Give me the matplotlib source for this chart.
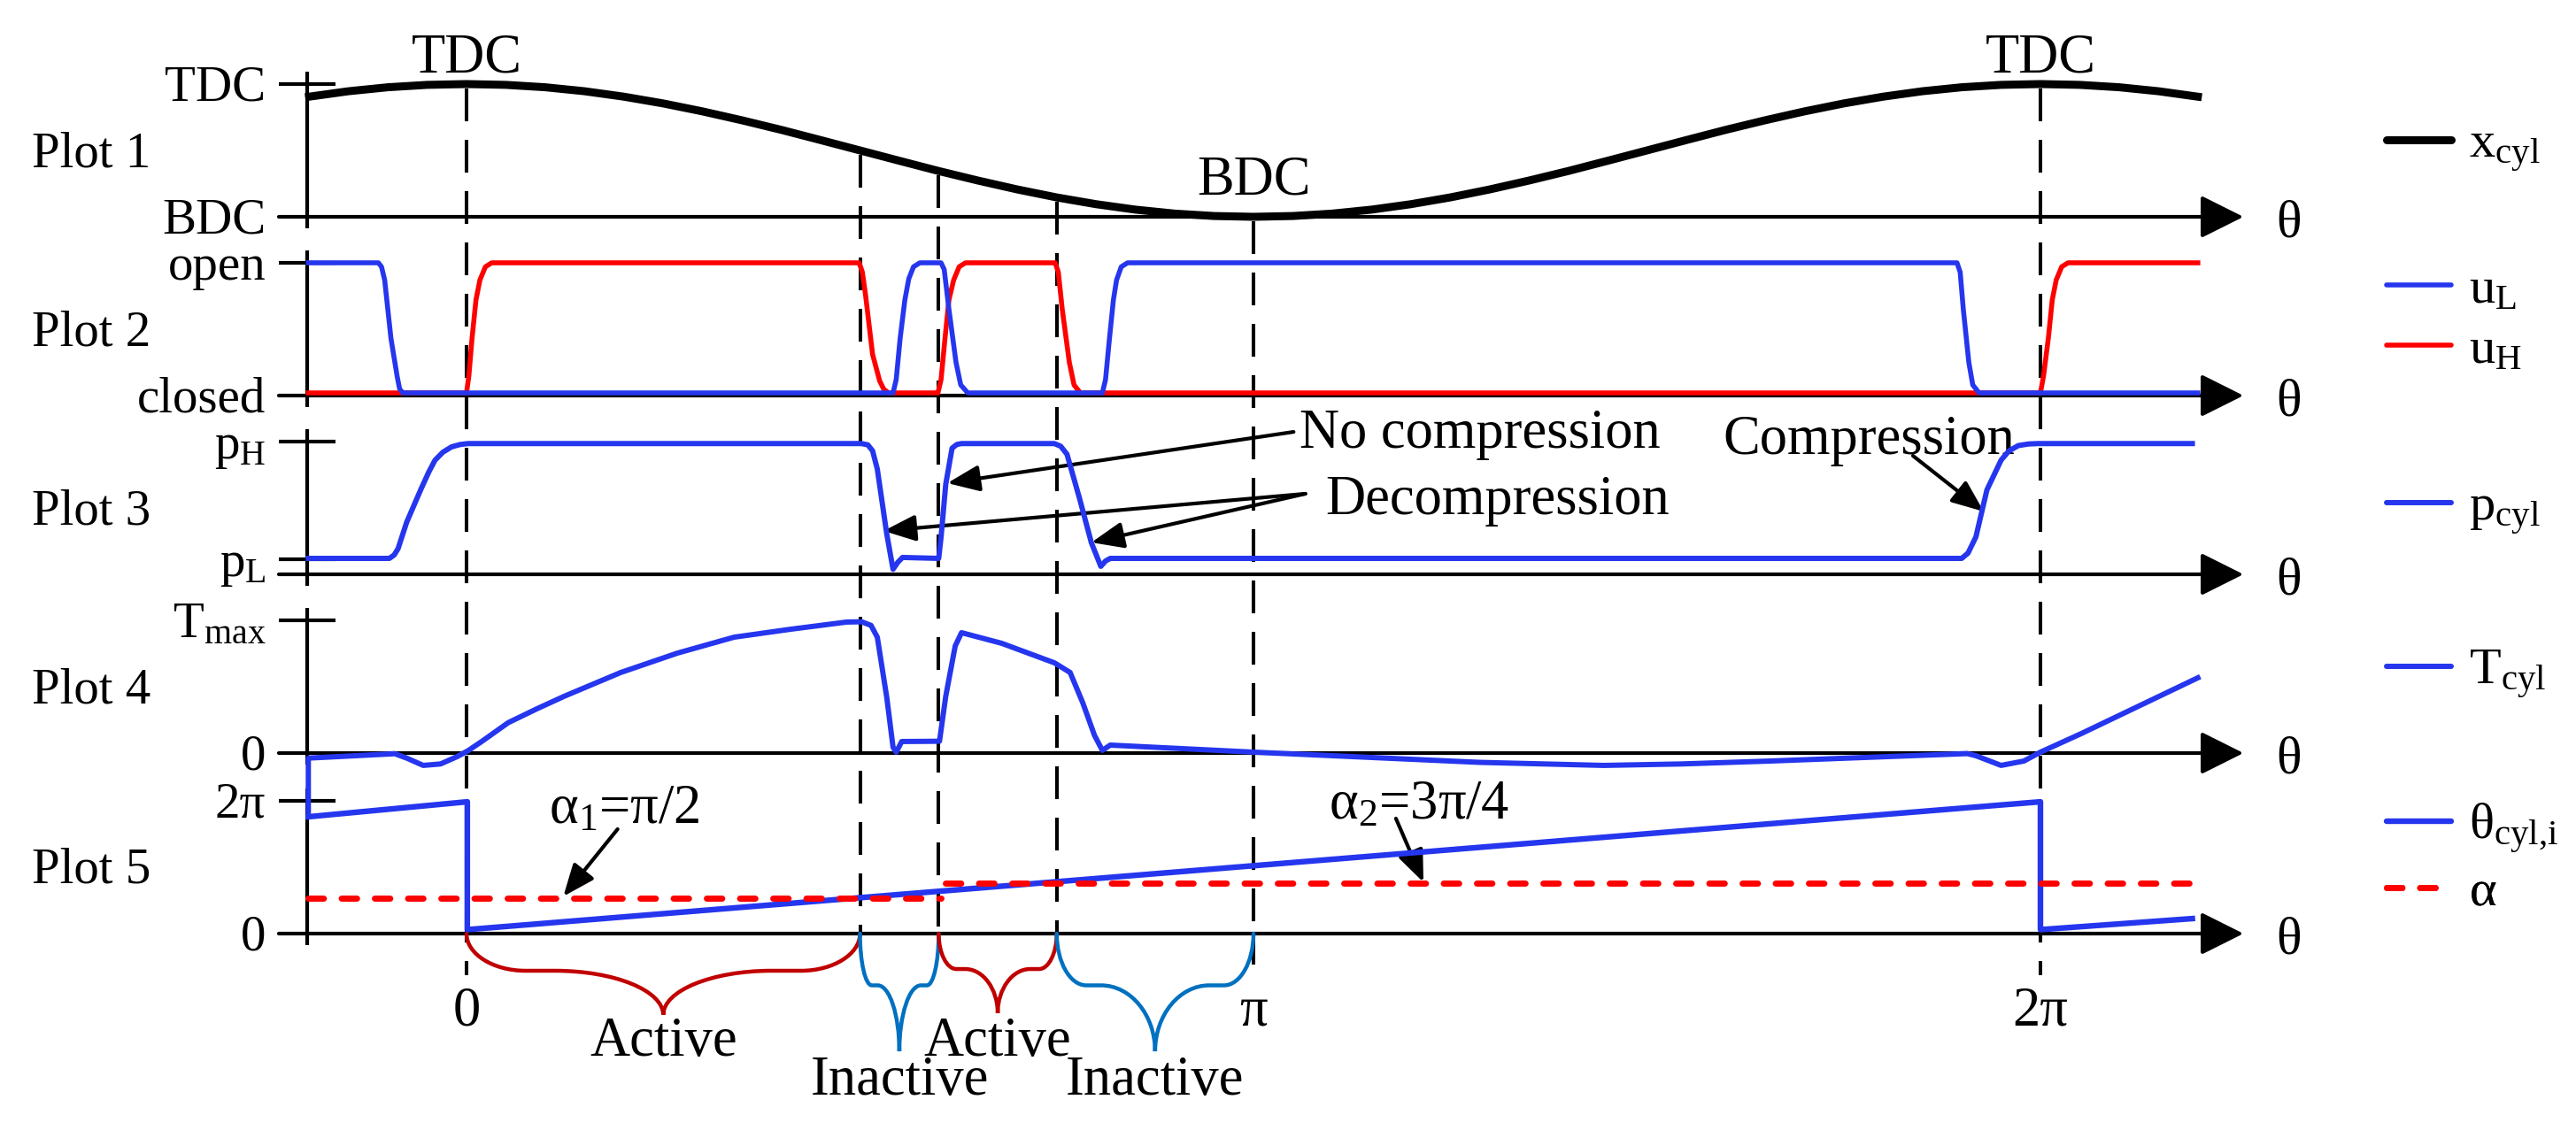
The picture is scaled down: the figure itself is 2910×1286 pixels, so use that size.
import numpy as np
import matplotlib
matplotlib.use("Agg")
import matplotlib.pyplot as plt
from matplotlib.lines import Line2D
from matplotlib.patches import PathPatch
from matplotlib.path import Path

plt.rcParams['font.family'] = ['Liberation Serif', 'DejaVu Serif']
plt.rcParams['mathtext.fontset'] = 'custom'
plt.rcParams['mathtext.rm'] = 'Liberation Serif'
plt.rcParams['mathtext.it'] = 'Liberation Serif:italic'
plt.rcParams['mathtext.bf'] = 'Liberation Serif:bold'

BLUE = '#2536EE'
RED = '#FF0000'
DARKRED = '#C00000'
LIGHTBLUE = '#0070C0'

# crank angle theta is given in units of pi everywhere

# Plot 1: piston position (0 = BDC, 1 = TDC)
theta_x = np.round(np.arange(-0.20, 2.2001, 0.05), 2)
x_cyl = [0.905, 0.946, 0.976, 0.994, 1.000, 0.994, 0.976, 0.946, 0.905, 0.854,
         0.794, 0.727, 0.655, 0.578, 0.500, 0.422, 0.345, 0.273, 0.206, 0.146,
         0.095, 0.054, 0.024, 0.006, 0.000, 0.006, 0.024, 0.054, 0.095, 0.146,
         0.206, 0.273, 0.345, 0.422, 0.500, 0.578, 0.655, 0.727, 0.794, 0.854,
         0.905, 0.946, 0.976, 0.994, 1.000, 0.994, 0.976, 0.946, 0.905]

# Plot 2: valve signals (0 = closed, 1 = open)
theta_uL = [-0.201, -0.112, -0.108, -0.104, -0.096, -0.088, -0.085, -0.081,
            0.542, 0.546, 0.551, 0.557, 0.562, 0.568, 0.576,
            0.603, 0.607, 0.613, 0.622, 0.628, 0.637,
            0.808, 0.812, 0.817, 0.822, 0.826, 0.832, 0.840,
            1.894, 1.898, 1.902, 1.909, 1.914, 1.922, 2.2]
u_L = [1, 1, 0.97, 0.87, 0.43, 0.14, 0.05, 0.02,
       0.02, 0.12, 0.43, 0.72, 0.88, 0.97, 1,
       1, 0.95, 0.65, 0.25, 0.08, 0.02,
       0.02, 0.12, 0.43, 0.72, 0.87, 0.97, 1,
       1, 0.93, 0.65, 0.25, 0.08, 0.02, 0.02]
theta_uH = [-0.201, 0.0, 0.003, 0.007, 0.012, 0.017, 0.024, 0.032,
            0.499, 0.503, 0.507, 0.516, 0.525, 0.530, 0.536,
            0.599, 0.603, 0.608, 0.613, 0.619, 0.626, 0.634,
            0.748, 0.752, 0.757, 0.766, 0.772, 0.780,
            2.0, 2.004, 2.010, 2.015, 2.020, 2.027, 2.035, 2.2]
u_H = [0.02, 0.02, 0.15, 0.43, 0.72, 0.87, 0.97, 1,
       1, 0.93, 0.76, 0.31, 0.11, 0.05, 0.02,
       0.02, 0.12, 0.43, 0.72, 0.87, 0.97, 1,
       1, 0.93, 0.65, 0.25, 0.08, 0.02,
       0.02, 0.15, 0.43, 0.72, 0.87, 0.97, 1, 1]

# Plot 3: cylinder pressure (pL -> 0.113, pH -> 1)
theta_p = [-0.201, -0.098, -0.092, -0.087, -0.076, -0.058, -0.048, -0.040, -0.030,
           -0.019, -0.008, 0.002, 0.502, 0.510, 0.516, 0.522, 0.534, 0.542, 0.548,
           0.554, 0.600, 0.603, 0.609, 0.617, 0.623, 0.629, 0.747, 0.755, 0.763,
           0.779, 0.794, 0.806, 0.812, 0.818, 1.900, 1.908, 1.918, 1.932, 1.950,
           1.960, 1.972, 1.985, 1.997, 2.193]
p_cyl = [0.12, 0.12, 0.145, 0.193, 0.393, 0.64, 0.77, 0.86, 0.92,
         0.96, 0.978, 0.985, 0.985, 0.975, 0.93, 0.793, 0.304, 0.038, 0.09,
         0.127, 0.12, 0.28, 0.68, 0.95, 0.978, 0.985, 0.985, 0.965, 0.905,
         0.571, 0.238, 0.06, 0.1, 0.12, 0.12, 0.16, 0.282, 0.636, 0.86,
         0.93, 0.97, 0.982, 0.985, 0.985]

# Plot 4: cylinder temperature (0 -> 0, Tmax -> 1)
theta_T = [-0.201, -0.201, -0.091, -0.076, -0.055, -0.033, -0.012, 0.002, 0.020, 0.053,
           0.090, 0.125, 0.196, 0.268, 0.340, 0.412, 0.483, 0.502, 0.514, 0.522,
           0.534, 0.542, 0.546, 0.553, 0.601, 0.609, 0.621, 0.629, 0.680, 0.747,
           0.767, 0.783, 0.798, 0.808, 0.818, 1.0, 1.287, 1.445, 1.544, 1.657,
           1.907, 1.918, 1.950, 1.979, 2.0, 2.052, 2.2]
T_cyl = [-0.48, -0.038, -0.005, -0.038, -0.093, -0.082, -0.027, 0.018, 0.09, 0.229,
         0.335, 0.43, 0.607, 0.753, 0.873, 0.933, 0.987, 0.989, 0.962, 0.873,
         0.42, 0.044, 0.007, 0.087, 0.089, 0.429, 0.807, 0.907, 0.827, 0.68,
         0.607, 0.38, 0.133, 0.02, 0.06, 0.007, -0.07, -0.093, -0.082, -0.06,
         -0.004, -0.02, -0.093, -0.06, 0.007, 0.147, 0.567]

# Plot 5: cylinder angle (in units of 2pi) and alpha
theta_c = [-0.201, 0.001, 0.001, 2.0, 2.0, 2.193]
theta_cyl = [0.88, 0.993, 0.03, 0.993, 0.03, 0.113]
theta_a = [-0.201, 0.603, np.nan, 0.608, 2.2]
alpha = [0.265, 0.265, np.nan, 0.38, 0.38]

# event angles (dashed markers) and the active / inactive intervals
events = [0.0, 0.5, 0.6, 0.75, 1.0, 2.0]
events_bottom = [-0.313, 0.0, 0.0, 0.0, -0.233, -0.313]
intervals = [(0.0, 0.5, 'Active'), (0.5, 0.6, 'Inactive'),
             (0.6, 0.75, 'Active'), (0.75, 1.0, 'Inactive')]

# ---- layout (pixel rows of each panel's theta axis, 150 px per unit) ----
W, H = 2910, 1286
UNIT = 150.0
axis_rows = [245, 447, 649, 851, 1055]
base = [(H - r) / UNIT for r in axis_rows]


def Y(k, v):
    return base[k] + np.asarray(v, dtype=float)


AX_LEFT = -0.2025
TICK_L, TICK_R = -0.2385, -0.1665
AX_TIP = 2.258
LBL_X = -0.255

fig = plt.figure(figsize=(W / 100, H / 100), dpi=100)
ax = fig.add_axes([0, 0, 1, 1])
ax.set_xlim(-527 / 889, (W - 527) / 889)
ax.set_ylim(0, H / UNIT)
ax.axis('off')

tick_labels = [[(1, 'TDC'), (0, 'BDC')],
               [(1, 'open'), (0, 'closed')],
               [(1, r'$\mathrm{p_H}$'), (0.113, r'$\mathrm{p_L}$')],
               [(1, r'$\mathrm{T_{max}}$'), (0, '0')],
               [(1, '2π'), (0, '0')]]

for k in range(5):
    ax.plot([AX_LEFT] * 2, Y(k, [-0.087, 1.093]), color='k', lw=3, zorder=3,
            solid_capstyle='butt')
    ax.annotate('', xy=(AX_TIP, Y(k, 0)), xytext=(TICK_L, Y(k, 0)),
                arrowprops=dict(arrowstyle='-|>,head_length=30,head_width=15',
                                mutation_scale=1, lw=3, color='k',
                                shrinkA=0, shrinkB=0), zorder=3)
    ax.text(2.316, Y(k, -0.147), 'θ', ha='center', va='baseline', fontsize=43)
    ax.text(-0.552, Y(k, 0.38), f'Plot {k + 1}', ha='left', va='baseline', fontsize=41)
    for v, lab in tick_labels[k]:
        if v != 0:
            ax.plot([TICK_L, TICK_R], [Y(k, v)] * 2, color='k', lw=3, zorder=3,
                    solid_capstyle='butt')
        ax.text(LBL_X, Y(k, v - 0.125), lab, ha='right', va='baseline', fontsize=41)

# dashed event markers, starting just under the piston curve
for t, b in zip(events, events_bottom):
    top = np.interp(t, theta_x, x_cyl) - 0.03
    ax.plot([t, t], [Y(0, top), Y(4, b)], color='k', lw=2.9,
            ls=(0, (9.2, 5.2)), zorder=2)

# curves
ax.plot(theta_x, Y(0, x_cyl), color='k', lw=6.5, zorder=4)
ax.plot(theta_uH, Y(1, u_H), color=RED, lw=4.0, zorder=4)
ax.plot(theta_uL, Y(1, u_L), color=BLUE, lw=4.0, zorder=5)
ax.plot(theta_p, Y(2, p_cyl), color=BLUE, lw=4.3, zorder=4)
ax.plot(theta_T, Y(3, T_cyl), color=BLUE, lw=4.3, zorder=4)
ax.plot(theta_c, Y(4, theta_cyl), color=BLUE, lw=4.6, zorder=4)
ax.plot(theta_a, Y(4, alpha), color=RED, lw=5, ls=(0, (2.5, 2.9)),
        dash_capstyle='round', zorder=5)

# TDC / BDC markers
ax.text(0.0, Y(0, 1.087), 'TDC', ha='center', va='baseline', fontsize=45)
ax.text(2.0, Y(0, 1.087), 'TDC', ha='center', va='baseline', fontsize=45)
ax.text(1.0, Y(0, 0.167), 'BDC', ha='center', va='baseline', fontsize=45)

# bottom angle labels
for t, lab in [(0.0, '0'), (1.0, 'π'), (2.0, '2π')]:
    ax.text(t, Y(4, -0.687), lab, ha='center', va='baseline', fontsize=45)


def brace(x0, x1, y0, s, d, color):
    w = (x1 - x0) / 2
    xm = x0 + w
    a, f = 0.3 * w, 0.15 * w
    xs = x0 + a
    xf = xs + f
    left = [(x0, y0), (x0, y0 - 0.55 * s), (xs - 0.55 * a, y0 - s), (xs, y0 - s),
            (xf, y0 - s),
            (xf + 0.55 * (xm - xf), y0 - s), (xm, y0 - d + 0.55 * (d - s)), (xm, y0 - d)]
    right = [(2 * xm - px, py) for px, py in reversed(left)][1:]
    codes = [Path.MOVETO] + [Path.CURVE4] * 3 + [Path.LINETO] + [Path.CURVE4] * 3
    codes += [Path.CURVE4] * 3 + [Path.LINETO] + [Path.CURVE4] * 3
    ax.add_patch(PathPatch(Path(left + right, codes), fill=False, ec=color, lw=3.2,
                           capstyle='round', zorder=3))


brace_style = {'Active': (DARKRED, 0.28, 0.613, -0.92),
               'Inactive': (LIGHTBLUE, 0.39, 0.887, -1.21)}
for x0, x1, name in intervals:
    col, s, d, yl = brace_style[name]
    if name == 'Active' and x0 > 0:
        s, d = 0.267, 0.6
    brace(x0, x1, Y(4, 0), s, d, col)
    ax.text((x0 + x1) / 2, Y(4, yl), name, ha='center', va='baseline', fontsize=45)

# annotations with arrows
arrow = dict(arrowstyle='-|>,head_length=22,head_width=9', mutation_scale=1,
             lw=3, color='k', shrinkA=0, shrinkB=0)
ax.text(1.288, Y(2, 0.953), 'No compression', ha='center', va='baseline', fontsize=45)
ax.annotate('', xy=(0.611, Y(2, 0.687)), xytext=(1.051, Y(2, 1.073)), arrowprops=arrow)
ax.text(1.310, Y(2, 0.453), 'Decompression', ha='center', va='baseline', fontsize=45)
ax.annotate('', xy=(0.530, Y(2, 0.327)), xytext=(1.066, Y(2, 0.607)), arrowprops=arrow)
ax.annotate('', xy=(0.794, Y(2, 0.24)), xytext=(1.066, Y(2, 0.607)), arrowprops=arrow)
ax.text(1.782, Y(2, 0.907), 'Compression', ha='center', va='baseline', fontsize=45)
ax.annotate('', xy=(1.928, Y(2, 0.473)), xytext=(1.838, Y(2, 0.893)), arrowprops=arrow)

ax.text(0.200, Y(4, 0.833), r'$\mathrm{α_1}$=π/2', ha='center', va='baseline', fontsize=45)
ax.annotate('', xy=(0.123, Y(4, 0.28)), xytext=(0.192, Y(4, 0.787)), arrowprops=arrow)
ax.text(1.211, Y(4, 0.867), r'$\mathrm{α_2}$=3π/4', ha='center', va='baseline', fontsize=45)
ax.annotate('', xy=(1.216, Y(4, 0.387)), xytext=(1.181, Y(4, 0.867)), arrowprops=arrow)

# legend entries on the right, one per signal
legend_items = [(0, 0.52, 'k', 6.5, '-', r'$\mathrm{x_{cyl}}$'),
                (1, 0.793, BLUE, 4.0, '-', r'$\mathrm{u_L}$'),
                (1, 0.34, RED, 4.0, '-', r'$\mathrm{u_H}$'),
                (2, 0.48, BLUE, 4.3, '-', r'$\mathrm{p_{cyl}}$'),
                (3, 0.593, BLUE, 4.3, '-', r'$\mathrm{T_{cyl}}$'),
                (4, 0.793, BLUE, 4.6, '-', r'$\mathrm{θ_{cyl{,}i}}$'),
                (4, 0.307, RED, 5, (0, (2.5, 2.9)), 'α')]
for k, v, col, lw, ls, lab in legend_items:
    h = Line2D([], [], color=col, lw=lw, ls=ls, dash_capstyle='round',
               solid_capstyle='round')
    leg = ax.legend(handles=[h], labels=[lab], loc='center left',
                    bbox_to_anchor=(2.44, Y(k, v)), bbox_transform=ax.transData,
                    frameon=False, handlelength=1.25, handletextpad=0.35,
                    borderpad=0, borderaxespad=0, fontsize=42)
    ax.add_artist(leg)

fig.savefig('out.png', dpi=100)
